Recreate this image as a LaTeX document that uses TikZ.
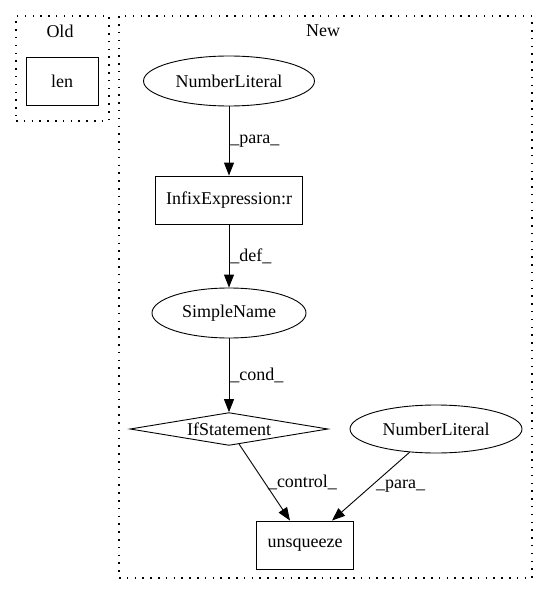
\documentclass[tikz,border=0pt]{standalone}
\usepackage{fontspec}
\setmainfont{Liberation Serif}
\usetikzlibrary{shapes.geometric,arrows.meta}
\begin{document}
\begin{tikzpicture}[x=1pt,y=-1pt,font=\fontsize{18}{20}\selectfont,
        >={Triangle[length=13pt,width=10pt]},line width=0.9pt,
        box/.style={draw,rectangle,inner sep=0pt,minimum height=48pt},
        oval/.style={draw,ellipse,inner sep=0pt,minimum width=171pt,minimum height=50pt},
        cluster/.style={draw,rectangle,line width=1.1pt,dash pattern=on 1.5pt off 6.3pt,inner sep=0pt}]
        \useasboundingbox (0,0) rectangle (548,596);

        \node[cluster,minimum width=93pt,minimum height=105pt] (old) at (62.5,68.5) {};
        \node (oldlbl) at (60,31) {Old};
        \node[cluster,minimum width=413pt,minimum height=562pt] (new) at (325.5,297) {};
        \node (newlbl) at (323,31) {New};

        \node[box,minimum width=72pt] (len) at (62,81) {len};

        \node[oval] (num1) at (229,81) {NumberLiteral};
        \node[box,minimum width=147pt] (infix) at (229,200) {InfixExpression:r};
        \node[oval,minimum width=154pt] (simple) at (229,313) {SimpleName};
        \node[draw,diamond,aspect=4.2,inner sep=0pt,minimum width=198pt] (ifst) at (229,429) {IfStatement};
        \node[oval,minimum width=172pt,minimum height=48pt] (num2) at (436,429) {NumberLiteral};
        \node[box,minimum width=97pt] (unsq) at (305,545) {unsqueeze};

        \path [->] (num1) edge node[right,inner sep=1pt] {\_para\_} (infix);
        \path [->] (infix) edge node[right,inner sep=1pt] {\_def\_} (simple);
        \path [->] (simple) edge node[right,inner sep=1pt] {\_cond\_} (ifst);
        \path [->] (ifst) edge node[right,inner sep=3pt] {\_control\_} ([xshift=-15pt]unsq.north);
        \path [->] (num2) edge node[right,inner sep=5pt] {\_para\_} ([xshift=27pt]unsq.north);
    \end{tikzpicture}
\end{document}
